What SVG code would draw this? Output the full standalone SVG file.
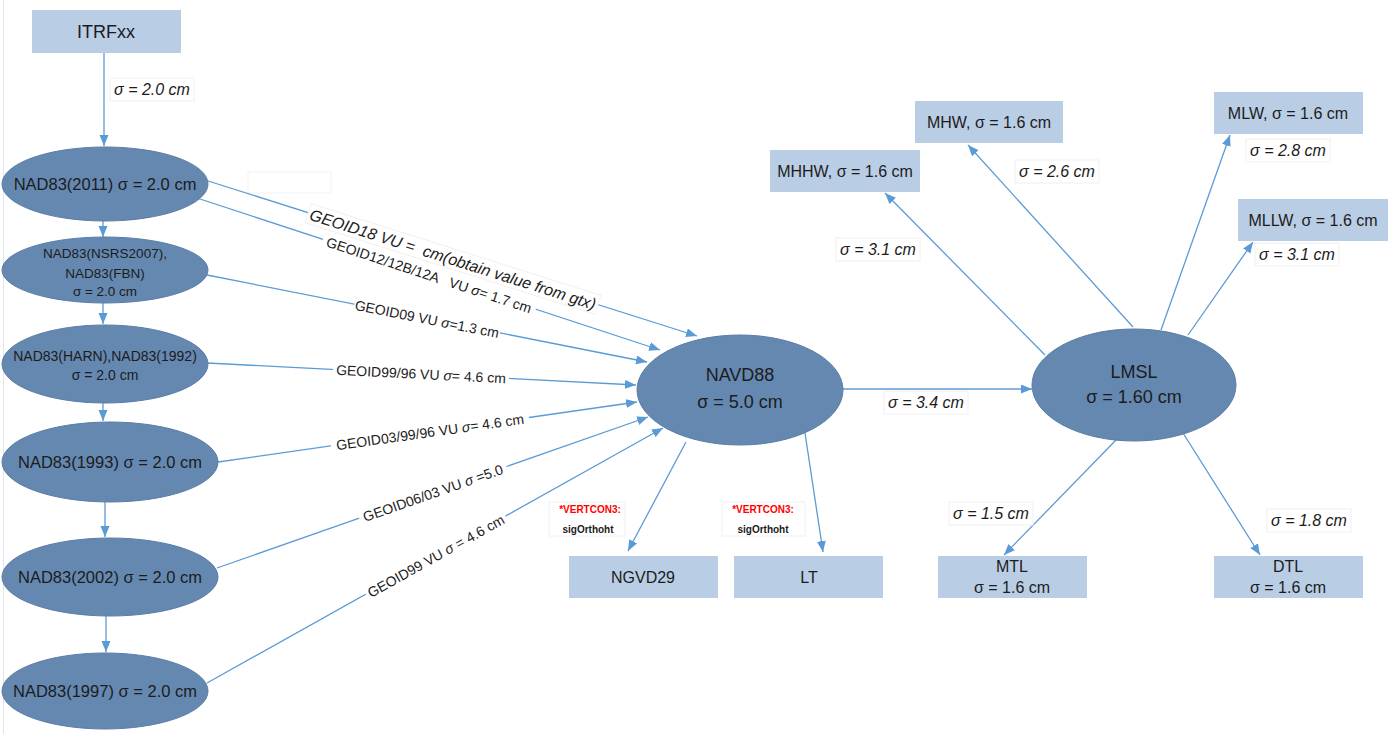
<svg xmlns="http://www.w3.org/2000/svg" width="1394" height="734" viewBox="0 0 1394 734">
<defs>
<marker id="arr" markerUnits="userSpaceOnUse" markerWidth="12" markerHeight="10" refX="11" refY="4.5" orient="auto"><path d="M0,0 L11,4.5 L0,9 z" fill="#5b9bd5"/></marker>
<style>
.e{fill:#6588b1;stroke:#5a7da6;stroke-width:1}
.b{fill:#b9cde5}
.t{font-family:"Liberation Sans",Arial,sans-serif;fill:#1c1c1c;text-anchor:middle}
.c{stroke:#5b9bd5;stroke-width:1.3;fill:none;marker-end:url(#arr)}
.lb{fill:#fff;stroke:#f0f0f0}
.sl{font-family:"Liberation Sans",Arial,sans-serif;fill:#1c1c1c;text-anchor:middle;font-style:italic;font-size:16px}
.gl{font-family:"Liberation Sans",Arial,sans-serif;fill:#1c1c1c;text-anchor:middle;font-size:14px}
.i{font-style:italic}
.vc{font-family:"Liberation Sans",Arial,sans-serif;font-weight:bold;font-size:10px;text-anchor:middle}
</style>
</defs>
<rect width="1394" height="734" fill="#fff"/>
<line x1="3.5" y1="0" x2="3.5" y2="734" stroke="#dfe3ea"/>
<rect x="248" y="172" width="83" height="21" fill="#fff" stroke="#f2f2f2"/>

<g id="connectors">
<path class="c" d="M104,53 V146"/>
<path class="c" d="M103,220 V237"/>
<path class="c" d="M103,303 V324"/>
<path class="c" d="M103,403 V421"/>
<path class="c" d="M105,502 V537"/>
<path class="c" d="M106,616 V652"/>
<path class="c" d="M205,180 L697,336"/>
<path class="c" d="M197,198 L660,350"/>
<path class="c" d="M207,275 L647,362"/>
<path class="c" d="M207,363 L636,385"/>
<path class="c" d="M218,462 L637,402"/>
<path class="c" d="M217,568 L648,417"/>
<path class="c" d="M207,683 L663,428"/>
<path class="c" d="M686,442 L628,551"/>
<path class="c" d="M805,433 L823,552"/>
<path class="c" d="M842,389 L1032,389"/>
<path class="c" d="M1045,355 L885,193"/>
<path class="c" d="M1133,327 L968,145"/>
<path class="c" d="M1161,330 L1230,135"/>
<path class="c" d="M1188,335 L1253,242"/>
<path class="c" d="M1116,440 L1004,555"/>
<path class="c" d="M1183,433 L1260,555"/>
</g>

<g id="labels">
<g transform="translate(453,259) rotate(17.6)"><rect class="lb" x="-152" y="-10" width="304" height="20" stroke="none"/><text class="sl" y="6" xml:space="preserve">GEOID18 VU =  cm(obtain value from gtx)</text></g>
<g transform="translate(429,275) rotate(18.2)"><rect x="-112" y="-9" width="224" height="18" fill="#fff"/><text class="gl" y="5" xml:space="preserve">GEOID12/12B/12A   VU <tspan class="i">σ</tspan>= 1.7 cm</text></g>
<g transform="translate(427,319) rotate(11.2)"><rect x="-74" y="-9" width="148" height="18" fill="#fff"/><text class="gl" y="5">GEOID09 VU <tspan class="i">σ</tspan>=1.3 cm</text></g>
<g transform="translate(421,374) rotate(2.9)"><rect x="-88" y="-9" width="176" height="18" fill="#fff"/><text class="gl" y="5">GEOID99/96 VU <tspan class="i">σ</tspan>= 4.6 cm</text></g>
<g transform="translate(430,432) rotate(-8.1)"><rect x="-100" y="-9" width="200" height="18" fill="#fff"/><text class="gl" y="5">GEOID03/99/96 VU <tspan class="i">σ</tspan>= 4.6 cm</text></g>
<g transform="translate(433,493) rotate(-19.3)"><rect x="-78" y="-9" width="156" height="18" fill="#fff"/><text class="gl" y="5">GEOID06/03 VU <tspan class="i">σ</tspan> =5.0</text></g>
<g transform="translate(436,556) rotate(-29.2)"><rect x="-80" y="-9" width="160" height="18" fill="#fff"/><text class="gl" y="5">GEOID99 VU <tspan class="i">σ</tspan> = 4.6 cm</text></g>

<rect class="lb" x="110" y="78" width="84" height="23"/><text class="sl" x="152" y="95">σ = 2.0 cm</text>
<rect class="lb" x="836" y="238" width="84" height="23"/><text class="sl" x="878" y="255">σ = 3.1 cm</text>
<rect class="lb" x="1015" y="160" width="84" height="23"/><text class="sl" x="1057" y="177">σ = 2.6 cm</text>
<rect class="lb" x="1246" y="139" width="84" height="23"/><text class="sl" x="1288" y="156">σ = 2.8 cm</text>
<rect class="lb" x="1255" y="243" width="84" height="23"/><text class="sl" x="1297" y="260">σ = 3.1 cm</text>
<rect class="lb" x="884" y="391" width="84" height="23"/><text class="sl" x="926" y="408">σ = 3.4 cm</text>
<rect class="lb" x="949" y="502" width="84" height="23"/><text class="sl" x="991" y="519">σ = 1.5 cm</text>
<rect class="lb" x="1267" y="509" width="84" height="23"/><text class="sl" x="1309" y="526">σ = 1.8 cm</text>

<rect x="549" y="502" width="76" height="34" fill="#fff" stroke="#f0f0f0"/>
<text class="vc" x="590" y="513" fill="#ff0000">*VERTCON3:</text>
<text class="vc" x="588" y="533" fill="#1c1c1c">sigOrthoht</text>
<rect x="722" y="502" width="83" height="34" fill="#fff" stroke="#f0f0f0"/>
<text class="vc" x="763" y="513" fill="#ff0000">*VERTCON3:</text>
<text class="vc" x="763" y="533" fill="#1c1c1c">sigOrthoht</text>
</g>

<g id="ITRFxx"><rect class="b" x="32" y="10" width="149" height="43"/><text class="t" x="106" y="38" font-size="18">ITRFxx</text></g>
<g id="NAD83_2011"><ellipse class="e" cx="105" cy="184" rx="103" ry="37"/><text class="t" x="105" y="190" font-size="16.5">NAD83(2011) σ = 2.0 cm</text></g>
<g id="NAD83_NSRS2007"><ellipse class="e" cx="105" cy="270" rx="103" ry="33"/><text class="t" x="105" y="258" font-size="13.5">NAD83(NSRS2007),</text><text class="t" x="105" y="278" font-size="13.5">NAD83(FBN)</text><text class="t" x="105" y="296" font-size="13.5">σ = 2.0 cm</text></g>
<g id="NAD83_HARN"><ellipse class="e" cx="105" cy="364" rx="103" ry="39"/><text class="t" x="105" y="361" font-size="14">NAD83(HARN),NAD83(1992)</text><text class="t" x="105" y="380" font-size="14">σ = 2.0 cm</text></g>
<g id="NAD83_1993"><ellipse class="e" cx="110" cy="462" rx="108" ry="40"/><text class="t" x="110" y="468" font-size="16.5">NAD83(1993) σ = 2.0 cm</text></g>
<g id="NAD83_2002"><ellipse class="e" cx="110" cy="577" rx="108" ry="39"/><text class="t" x="110" y="583" font-size="16.5">NAD83(2002) σ = 2.0 cm</text></g>
<g id="NAD83_1997"><ellipse class="e" cx="105" cy="691" rx="103" ry="38"/><text class="t" x="105" y="697" font-size="16.5">NAD83(1997) σ = 2.0 cm</text></g>
<g id="NAVD88"><ellipse class="e" cx="740" cy="390" rx="103" ry="55"/><text class="t" x="740" y="381" font-size="18">NAVD88</text><text class="t" x="740" y="408" font-size="18">σ = 5.0 cm</text></g>
<g id="LMSL"><ellipse class="e" cx="1134" cy="385" rx="102" ry="56"/><text class="t" x="1134" y="378" font-size="18">LMSL</text><text class="t" x="1134" y="403" font-size="18">σ = 1.60 cm</text></g>
<g id="NGVD29"><rect class="b" x="569" y="556" width="149" height="42"/><text class="t" x="643" y="583" font-size="16">NGVD29</text></g>
<g id="LT"><rect class="b" x="734" y="556" width="149" height="42"/><text class="t" x="809" y="583" font-size="16">LT</text></g>
<g id="MHHW"><rect class="b" x="770" y="150" width="150" height="42"/><text class="t" x="845" y="177" font-size="16">MHHW, σ = 1.6 cm</text></g>
<g id="MHW"><rect class="b" x="915" y="101" width="148" height="42"/><text class="t" x="989" y="128" font-size="16">MHW, σ = 1.6 cm</text></g>
<g id="MLW"><rect class="b" x="1214" y="92" width="149" height="42"/><text class="t" x="1288" y="119" font-size="16">MLW, σ = 1.6 cm</text></g>
<g id="MLLW"><rect class="b" x="1238" y="199" width="150" height="42"/><text class="t" x="1313" y="226" font-size="16">MLLW, σ = 1.6 cm</text></g>
<g id="MTL"><rect class="b" x="938" y="556" width="149" height="42"/><text class="t" x="1012" y="572" font-size="16">MTL</text><text class="t" x="1012" y="593" font-size="16">σ = 1.6 cm</text></g>
<g id="DTL"><rect class="b" x="1214" y="556" width="149" height="42"/><text class="t" x="1288" y="572" font-size="16">DTL</text><text class="t" x="1288" y="593" font-size="16">σ = 1.6 cm</text></g>
</svg>
